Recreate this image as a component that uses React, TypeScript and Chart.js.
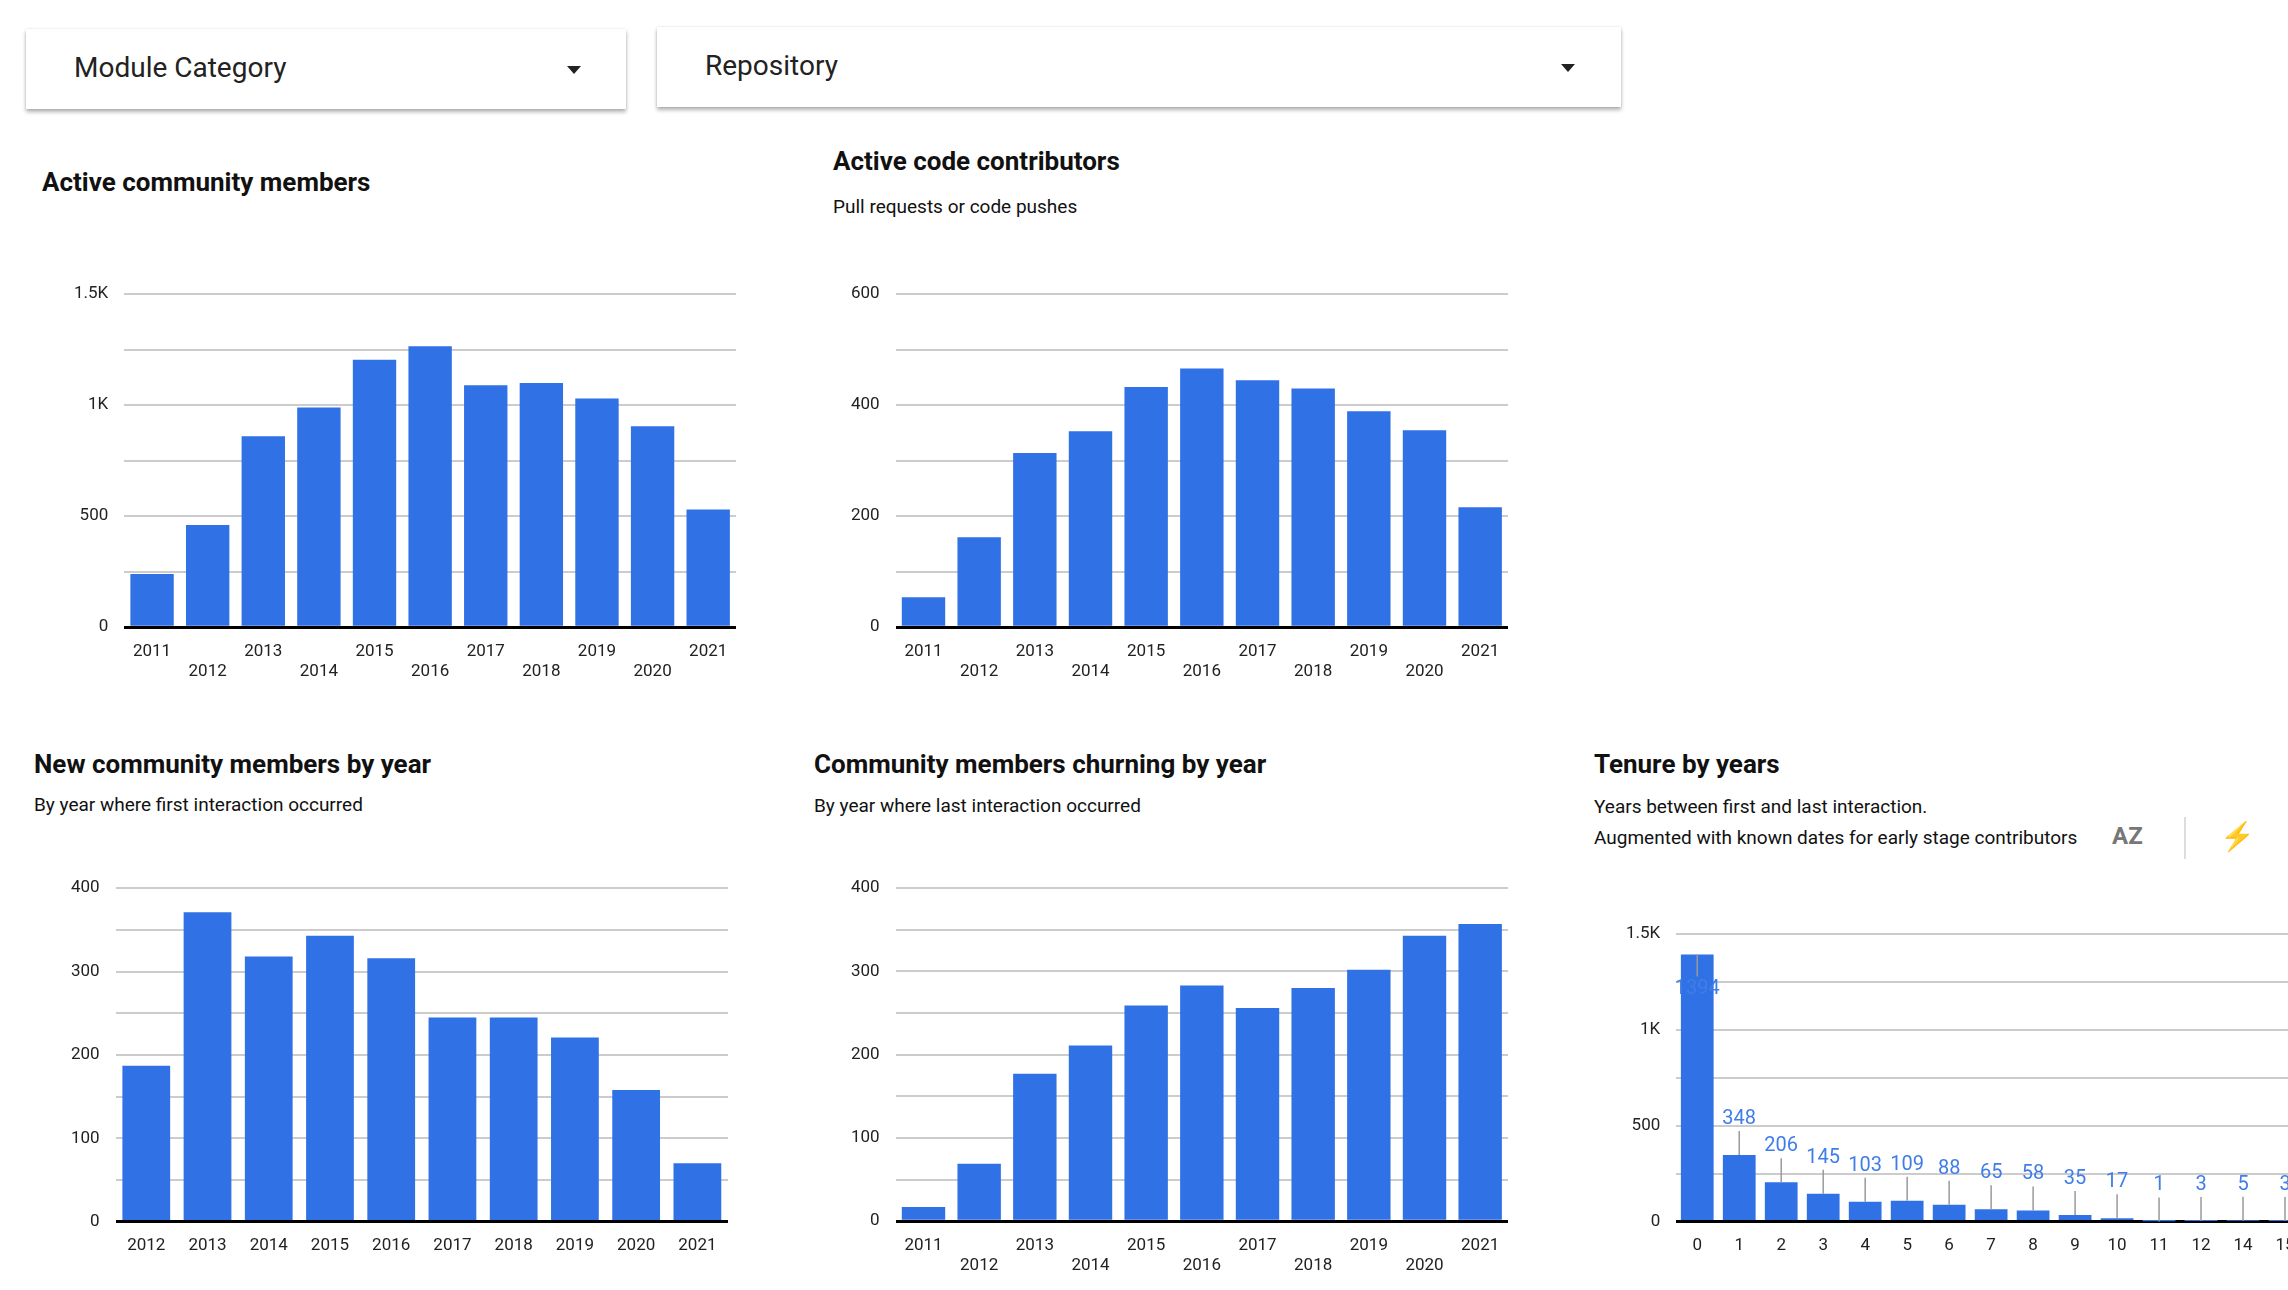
import { useEffect, useRef } from "react"
import { Chart, registerables } from "chart.js"

Chart.register(...registerables)

const years = ["2011", "2012", "2013", "2014", "2015", "2016", "2017", "2018", "2019", "2020", "2021"]
const activeMembers = [240, 460, 860, 990, 1205, 1265, 1090, 1100, 1030, 905, 530]
const codeContributors = [54, 162, 314, 353, 433, 466, 445, 430, 389, 355, 216]
const newYears = ["2012", "2013", "2014", "2015", "2016", "2017", "2018", "2019", "2020", "2021"]
const newMembers = [187, 371, 318, 343, 316, 245, 245, 221, 158, 70]
const churnMembers = [17, 69, 177, 211, 259, 283, 256, 280, 302, 343, 357]
const tenureYears = ["0", "1", "2", "3", "4", "5", "6", "7", "8", "9", "10", "11", "12", "14", "15"]
const tenureCounts = [1394, 348, 206, 145, 103, 109, 88, 65, 58, 35, 17, 1, 3, 5, 3]

const BLUE = "#3071e6"
const FONT = "Roboto"

const fmtK = (v: number) => (v >= 1000 ? `${v / 1000}K` : `${v}`)

const labelPlugin = {
  id: "stemLabels",
  afterDatasetsDraw(chart: any) {
    const meta = chart.getDatasetMeta(0)
    const ctx = chart.ctx
    const area = chart.chartArea
    ctx.save()
    ctx.font = `20px ${FONT}`
    ctx.fillStyle = "#3f7de8"
    ctx.strokeStyle = "#999"
    ctx.lineWidth = 1.5
    ctx.textAlign = "center"
    meta.data.forEach((bar: any, i: number) => {
      const v = chart.data.datasets[0].data[i]
      const x = bar.x
      const y = bar.y
      if (y - 50 < area.top) {
        ctx.beginPath()
        ctx.moveTo(x, y)
        ctx.lineTo(x, y + 22)
        ctx.stroke()
        ctx.textBaseline = "top"
        ctx.fillText(String(v), x, y + 24)
      } else {
        ctx.beginPath()
        ctx.moveTo(x, y)
        ctx.lineTo(x, y - 24)
        ctx.stroke()
        ctx.textBaseline = "bottom"
        ctx.fillText(String(v), x, y - 26)
      }
    })
    ctx.restore()
  },
}

type Props = {
  labels: string[]
  values: number[]
  max: number
  step: number
  labelStep: number
  stagger?: boolean
  stems?: boolean
  left: number
  top: number
  width: number
  height: number
}

function BarChart(p: Props) {
  const ref = useRef<HTMLCanvasElement>(null)
  const inst = useRef<Chart | null>(null)

  useEffect(() => {
    if (!ref.current) return
    if (inst.current) inst.current.destroy()
    inst.current = new Chart(ref.current, {
      type: "bar",
      data: {
        labels: p.labels,
        datasets: [{ data: p.values, backgroundColor: BLUE, barPercentage: 0.78, categoryPercentage: 1 }],
      },
      options: {
        responsive: false,
        animation: false,
        layout: { padding: { right: 4, top: 10 } },
        plugins: { legend: { display: false }, tooltip: { enabled: false } },
        scales: {
          x: {
            grid: { display: false },
            border: { display: false },
            ticks: {
              color: "#222",
              font: { family: FONT, size: 17 },
              maxRotation: 0,
              autoSkip: false,
              padding: 6,
              callback: (_v: any, i: number) =>
                p.stagger ? (i % 2 === 0 ? [p.labels[i], ""] : ["", p.labels[i]]) : p.labels[i],
            },
          },
          y: {
            min: 0,
            max: p.max,
            border: { display: false },
            grid: {
              drawTicks: false,
              color: (c: any) => (c.tick.value === 0 ? "#000" : "#ccc"),
              lineWidth: (c: any) => (c.tick.value === 0 ? 3 : 2),
            },
            ticks: {
              stepSize: p.step,
              padding: 16,
              color: "#222",
              font: { family: FONT, size: 17 },
              callback: (v: any) => (v % p.labelStep === 0 ? fmtK(v) : ""),
            },
          },
        },
      },
      plugins: p.stems ? [labelPlugin] : [],
    } as any)
    return () => {
      if (inst.current) inst.current.destroy()
    }
  }, [])

  return (
    <canvas
      ref={ref}
      width={p.width}
      height={p.height}
      style={{ position: "absolute", left: p.left, top: p.top, width: p.width, height: p.height }}
    />
  )
}

const text = (left: number, top: number, size: number, bold: boolean, s: string) => (
  <div
    style={{
      position: "absolute",
      left,
      top,
      fontSize: size,
      fontWeight: bold ? 700 : 400,
      color: "#111",
      whiteSpace: "nowrap",
    }}
  >
    {s}
  </div>
)

function Dropdown({ left, top, width, label, arrowX }: any) {
  return (
    <div
      style={{
        position: "absolute",
        left,
        top,
        width,
        height: 80,
        background: "#fff",
        boxShadow: "0 3px 4px rgba(0,0,0,0.3), 0 0 2px rgba(0,0,0,0.12)",
      }}
    >
      <div style={{ position: "absolute", left: 48, top: 22, fontSize: 28, color: "#222" }}>{label}</div>
      <div
        style={{
          position: "absolute",
          left: arrowX,
          top: 37,
          width: 0,
          height: 0,
          borderLeft: "7px solid transparent",
          borderRight: "7px solid transparent",
          borderTop: "8px solid #222",
        }}
      />
    </div>
  )
}

export default function App() {
  return (
    <div
      style={{
        position: "fixed",
        left: 0,
        top: 0,
        width: 2288,
        height: 1290,
        overflow: "hidden",
        background: "#fff",
        fontFamily: FONT,
      }}
    >
      <Dropdown left={26} top={29} width={600} label="Module Category" arrowX={541} />
      <Dropdown left={657} top={27} width={964} label="Repository" arrowX={904} />

      {text(42, 167, 26, true, "Active community members")}
      {text(833, 146, 26, true, "Active code contributors")}
      {text(833, 195, 19, false, "Pull requests or code pushes")}

      {text(34, 749, 26, true, "New community members by year")}
      {text(34, 793, 19, false, "By year where first interaction occurred")}
      {text(814, 749, 26, true, "Community members churning by year")}
      {text(814, 794, 19, false, "By year where last interaction occurred")}
      {text(1594, 749, 26, true, "Tenure by years")}
      {text(1594, 795, 19, false, "Years between first and last interaction.")}
      {text(1594, 826, 19, false, "Augmented with known dates for early stage contributors")}
      <div style={{ position: "absolute", left: 2112, top: 822, fontSize: 24, fontWeight: 700, color: "#777" }}>AZ</div>
      <div style={{ position: "absolute", left: 2184, top: 817, width: 2, height: 42, background: "#ddd" }} />
      <div style={{ position: "absolute", left: 2220, top: 820, fontSize: 28, color: "#666" }}>⚡</div>

      <BarChart labels={years} values={activeMembers} max={1500} step={250} labelStep={500} stagger
        left={58} top={268} width={682} height={420} />
      <BarChart labels={years} values={codeContributors} max={600} step={100} labelStep={200} stagger
        left={835} top={268} width={677} height={420} />
      <BarChart labels={newYears} values={newMembers} max={400} step={50} labelStep={100}
        left={55} top={862} width={677} height={400} />
      <BarChart labels={years} values={churnMembers} max={400} step={50} labelStep={100} stagger
        left={835} top={862} width={677} height={420} />
      <BarChart labels={tenureYears} values={tenureCounts} max={1500} step={250} labelStep={500} stems
        left={1610} top={908} width={700} height={354} />
    </div>
  )
}
